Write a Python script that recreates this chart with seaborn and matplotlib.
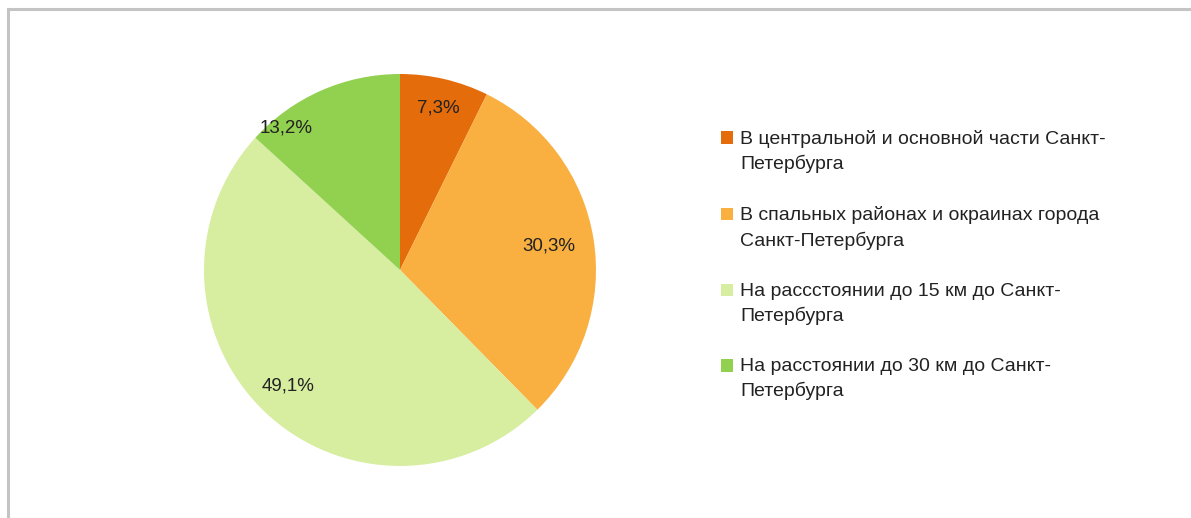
import matplotlib
matplotlib.use("Agg")
import matplotlib.pyplot as plt
import matplotlib.patches as mpatches
from matplotlib.legend_handler import HandlerPatch
import seaborn as sns
import numpy as np

sns.set_theme(style="white")
plt.rcParams['font.family'] = ['Liberation Sans', 'DejaVu Sans']

categories = [
    "В центральной и основной части Санкт-\nПетербурга",
    "В спальных районах и окраинах города\nСанкт-Петербурга",
    "На расссто­янии до 15 км до Санкт-\nПетербурга".replace("\u00ad", ""),
    "На расстоянии до 30 км до Санкт-\nПетербурга",
]
shares = [7.3, 30.3, 49.1, 13.2]
colors = ["#E46C0A", "#F9B041", "#D7EDA0", "#92D050"]

# label placement tweaks (radius fraction, angle offset in degrees)
label_r = [0.85, 0.77, 0.82, 0.93]
label_da = [0, 0, 0, 15]

LEG_FS = 14


class TopSquare(HandlerPatch):
    # put the legend square next to the first text line, as Excel does
    def create_artists(self, legend, orig_handle, xdescent, ydescent,
                       width, height, fontsize, trans):
        p = mpatches.Rectangle((-xdescent, -ydescent + 0.7 * fontsize), width, height,
                               facecolor=orig_handle.get_facecolor(), linewidth=0,
                               transform=trans)
        return [p]


fig = plt.figure(figsize=(11.91, 5.18), dpi=100)

# outer frame like the source screenshot
fig.patches.append(mpatches.Rectangle((7.5 / 1191, -0.1), 1.2, 1 - 9.5 / 518 + 0.1,
                                      transform=fig.transFigure, fill=False,
                                      edgecolor="#c4c4c4", linewidth=2.2))

ax = fig.add_axes([0.1713, 0.1004, 0.3291, 0.7568])
wedges, _ = ax.pie(shares, colors=colors, startangle=90, counterclock=False,
                   radius=1, wedgeprops=dict(linewidth=0))
ax.set_xlim(-1, 1)
ax.set_ylim(-1, 1)
ax.set_aspect("equal")
ax.axis("off")

for w, v, r, da in zip(wedges, shares, label_r, label_da):
    ang = np.deg2rad((w.theta1 + w.theta2) / 2 + da)
    ax.text(r * np.cos(ang), r * np.sin(ang), f"{v:.1f}%".replace(".", ","),
            ha="center", va="center", fontsize=13.5, color="#222222")

handles = [mpatches.Patch(color=c) for c in colors]
leg = fig.legend(handles, categories, loc="upper left", bbox_to_anchor=(0.605, 0.749),
                 frameon=False, fontsize=LEG_FS, handlelength=0.62, handleheight=0.62,
                 handletextpad=0.4, labelspacing=1.69, borderaxespad=0, borderpad=0,
                 labelcolor="#222222", handler_map={mpatches.Patch: TopSquare()})
for t in leg.get_texts():
    t.set_linespacing(1.5)

fig.savefig("out.png", dpi=100, facecolor="white")
